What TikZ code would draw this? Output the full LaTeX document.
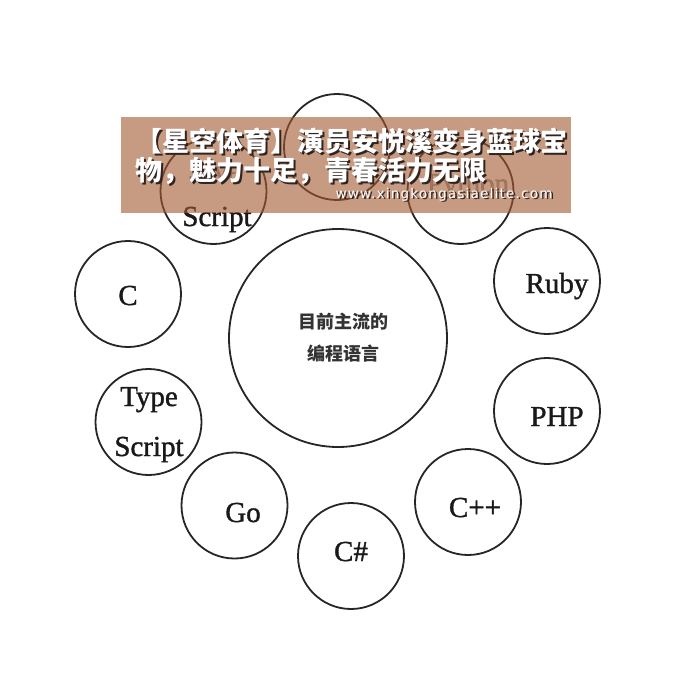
\documentclass[tikz,border=0pt]{standalone}
\usepackage{fontspec}
\newfontfamily\langfont[FakeBold=1.2]{Liberation Serif}
\newfontfamily\cjk{Noto Sans CJK SC}
\newfontfamily\urlfont[LetterSpace=9]{DejaVu Sans}
\usetikzlibrary{positioning}
\definecolor{bannerfill}{HTML}{A3582F}
\definecolor{bannershadow}{HTML}{2F2420}
\newcommand{\shadowed}[1]{\rlap{\raisebox{-1.8pt}{\hspace{1.8pt}\textcolor{bannershadow}{#1}}}#1}
\tikzset{
	x=1pt, y=-1pt,
	lang/.style={draw=black!85, circle, line width=1.8pt, minimum size=106pt, inner sep=0pt, outer sep=0pt},
	core/.style={lang, minimum size=218pt},
	langname/.style={anchor=base, inner sep=0pt, text=black!90, font=\langfont\fontsize{29}{29}\selectfont},
	hiddenname/.style={langname, text opacity=.4},
	corename/.style={anchor=base, inner sep=0pt, text=black!80, font=\cjk\bfseries\fontsize{18}{18}\selectfont},
	banner/.style={fill=bannerfill, fill opacity=.6, minimum width=450pt, minimum height=96pt, inner sep=0pt, outer sep=0pt},
	bannertext/.style={anchor=north west, inner sep=0pt, align=left, text=white, font=\cjk\bfseries\fontsize{27}{28.5}\selectfont},
	bannerurl/.style={anchor=base, inner sep=0pt, text=white, font=\urlfont\fontsize{13.5}{14}\selectfont}
}
\begin{document}
\begin{tikzpicture}
	\useasboundingbox (0,0) rectangle (691,691);
	\fill[white] (0,0) rectangle (691,691);
	% centre
	\node[core] (main) at (338,338) {};
	\node[corename] (main1) at (343.5,328) {目前主流的};
	\node[corename] (main2) at (343.5,360) {编程语言};
	% ring, clockwise from the top
	\node[lang] (top) at (337,147) {};
	\node[lang] (python) at (460.5,191) {};
	\node[lang] (ruby) at (547,281) {};
	\node[lang] (php) at (547,411) {};
	\node[lang] (cpp) at (468,502) {};
	\node[lang] (csharp) at (351,556) {};
	\node[lang] (go) at (234.5,505.5) {};
	\node[lang] (ts) at (148.5,422) {};
	\node[lang] (c) at (128,294) {};
	\node[lang] (js) at (213.5,191) {};
	% names
	\node[hiddenname] (pythonname) at (468,193) {Python};
	\node[langname] (rubyname) at (557,293) {Ruby};
	\node[langname] (phpname) at (557,426) {PHP};
	\node[langname] (cppname) at (475,517) {C++};
	\node[langname] (csharpname) at (351,561) {C\#};
	\node[langname] (goname) at (243,522) {Go};
	\node[langname] (tsname1) at (149,406) {Type};
	\node[langname] (tsname2) at (149,456) {Script};
	\node[langname] (cname) at (128,305) {C};
	\node[hiddenname] (jsname1) at (215,180) {Java};
	\node[langname] (jsname2) at (217,226) {Script};
	% overlay
	\node[banner] (band) at (346,165) {};
	\node[bannertext] (bandtext) at (135,128) {\shadowed{【星空体育】演员安悦溪变身蓝球宝}\\\shadowed{物，魅力十足，青春活力无限}};
	\node[bannerurl] (bandurl) at (444,198) {\shadowed{www.xingkongasiaelite.com}};
\end{tikzpicture}
\end{document}
